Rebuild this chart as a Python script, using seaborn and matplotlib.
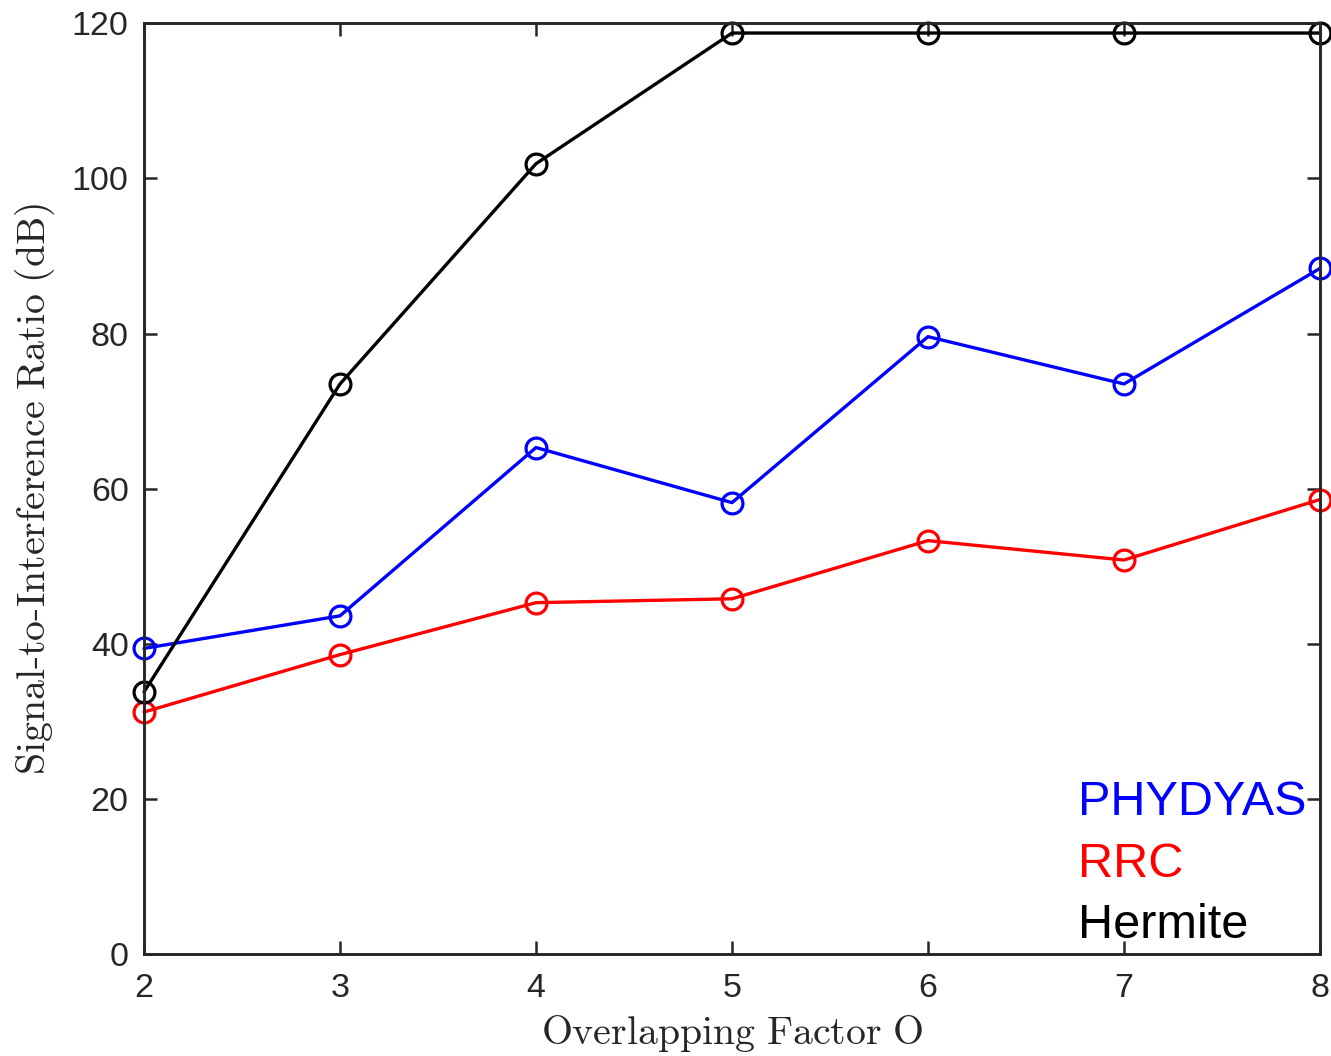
import matplotlib
matplotlib.use("Agg")
import matplotlib.pyplot as plt
import seaborn as sns
import pandas as pd

overlap = [2, 3, 4, 5, 6, 7, 8]
phydyas = [39.4, 43.6, 65.3, 58.2, 79.6, 73.5, 88.4]
rrc = [31.2, 38.6, 45.3, 45.8, 53.3, 50.8, 58.6]
hermite = [33.8, 73.5, 101.9, 118.75, 118.75, 118.75, 118.75]
series_names = ["PHYDYAS", "RRC", "Hermite"]
series_colors = ["#0000ff", "#ff0000", "#000000"]
xticks = [2, 3, 4, 5, 6, 7, 8]
yticks = [0, 20, 40, 60, 80, 100, 120]

rows = []
for name, vals in zip(series_names, [phydyas, rrc, hermite]):
    for x, v in zip(overlap, vals):
        rows.append({"O": x, "SIR": v, "Filter": name})
df = pd.DataFrame(rows)

sns.set_style("ticks")
plt.rcParams["font.family"] = ["Liberation Sans", "DejaVu Sans"]
plt.rcParams["mathtext.fontset"] = "cm"

fig = plt.figure(figsize=(13.31, 10.56), dpi=100)
ax = fig.add_axes([0.1082, 0.0966, 0.8835, 0.8813])

sns.lineplot(data=df, x="O", y="SIR", hue="Filter", hue_order=series_names,
             palette=dict(zip(series_names, series_colors)), marker="o",
             ax=ax, linewidth=2.4, legend=False)

for line, c in zip(ax.lines, series_colors):
    line.set_markerfacecolor("none")
    line.set_markeredgecolor(c)
    line.set_markeredgewidth(2.3)
    line.set_markersize(15)
    line.set_clip_on(False)

ax.set_xlim(2, 8)
ax.set_ylim(0, 120)
ax.set_xticks(xticks)
ax.set_yticks(yticks)
ax.tick_params(direction="in", length=9.5, width=1.8, top=True, right=True,
               labelsize=24.5, colors="#262626")
ax.tick_params(axis="x", pad=14)
ax.tick_params(axis="y", pad=11)
for s in ax.spines.values():
    s.set_visible(True)
    s.set_linewidth(2.1)
    s.set_color("#262626")

ax.set_xlabel(r"$\mathrm{Overlapping\ Factor\ O}$",
              fontsize=28.7, color="#262626", labelpad=6)
ax.set_ylabel(r"$\mathrm{Signal\text{-}to\text{-}Interference\ Ratio\ (dB)}$",
              fontsize=28.7, color="#262626", labelpad=11)

for i, (name, c) in enumerate(zip(series_names, series_colors)):
    ax.text(0.794, 0.149 - i * 0.066, name, transform=ax.transAxes, color=c,
            fontsize=35, ha="left", va="baseline")

fig.savefig("out.png", dpi=100)
